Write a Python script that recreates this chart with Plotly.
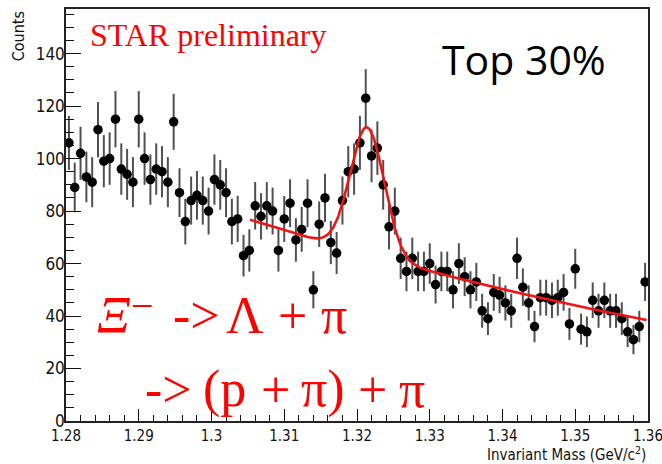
import numpy as np
import plotly.graph_objects as go

# Invariant-mass histogram: 100 bins of 0.0008 GeV/c^2 between 1.28 and 1.36
mass_lo, mass_hi, n_bins = 1.28, 1.36, 100
bin_centers = mass_lo + (np.arange(n_bins) + 0.5) * (mass_hi - mass_lo) / n_bins

counts = [
    106, 89, 102, 93, 91, 111, 99, 100, 115, 96,
    94, 91, 115, 100, 92, 96, 95, 91, 114, 87,
    76, 84, 86, 84, 80, 92, 90, 87, 76, 77,
    63, 65, 82, 78, 82, 80, 65, 77, 83, 69,
    73, 83, 50, 75, 85, 68, 64, 84, 95, 96,
    106, 123, 101, 104, 90, 74, 80, 62, 57, 62,
    57, 57, 60, 52, 57, 57, 50, 60, 55, 50,
    53, 42, 39, 49, 48, 45, 42, 62, 51, 45,
    36, 47, 47, 46, 47, 49, 37, 58, 35, 34,
    46, 42, 46, 42, 42, 39, 34, 31, 36, 53,
]
count_errors = np.sqrt(counts)

x_tick_vals = [1.28, 1.29, 1.30, 1.31, 1.32, 1.33, 1.34, 1.35, 1.36]
x_tick_text = ["1.28", "1.29", "1.3", "1.31", "1.32", "1.33", "1.34", "1.35", "1.36"]
y_tick_vals = [0, 20, 40, 60, 80, 100, 120, 140]

# Fit: Gaussian peak on a quadratic background (expanded about 1.32)
fit_range = (1.3053, 1.3598)
bkg_ref = 1.32
bkg_p0, bkg_p1, bkg_p2 = 64.57, -779.6, 3107.0
gaus_amp, gaus_mean, gaus_sigma = 48.4, 1.3214, 0.00234

fit_x = np.linspace(fit_range[0], fit_range[1], 400)
u = fit_x - bkg_ref
fit_y = (bkg_p0 + bkg_p1 * u + bkg_p2 * u ** 2
         + gaus_amp * np.exp(-0.5 * ((fit_x - gaus_mean) / gaus_sigma) ** 2))

axis_family = "Liberation Sans Narrow, DejaVu Sans Condensed, Arial"
serif = "Liberation Serif, Times New Roman, serif"
red = "#ff0000"

fig = go.Figure()
fig.add_trace(go.Scatter(
    x=bin_centers, y=counts, mode="markers",
    marker=dict(color="black", size=9.5, symbol="circle"),
    error_y=dict(type="data", array=count_errors, visible=True,
                 color="#505050", thickness=2, width=0),
    showlegend=False, hoverinfo="skip",
))
fig.add_trace(go.Scatter(
    x=fit_x, y=fit_y, mode="lines",
    line=dict(color="#f01414", width=2.6),
    showlegend=False, hoverinfo="skip",
))

fig.update_xaxes(
    range=[mass_lo - 1e-7, mass_hi + 1e-7],
    tickmode="array", tickvals=x_tick_vals, ticktext=x_tick_text,
    ticks="inside", ticklen=12, tickwidth=1, tickcolor="#111",
    minor=dict(ticks="inside", ticklen=6, dtick=0.002, tick0=mass_lo, tickcolor="#111"),
    showline=True, linecolor="#222", linewidth=1.5, mirror=True,
    showgrid=False, zeroline=False,
    tickfont=dict(family=axis_family, size=15, color="#111"),
    ticklabeloverflow="allow", automargin=False,
)
fig.update_yaxes(
    range=[0, 157], tickmode="array", tickvals=y_tick_vals,
    ticks="inside", ticklen=15, tickwidth=1, tickcolor="#111",
    minor=dict(ticks="inside", ticklen=8, dtick=5, tick0=0, tickcolor="#111"),
    showline=True, linecolor="#222", linewidth=1.5, mirror=True,
    showgrid=False, zeroline=False,
    tickfont=dict(family=axis_family, size=17, color="#111"),
    ticklabelstandoff=-4, automargin=False,
)


def red_text(text, x, y, size=52, **kw):
    return dict(text=text, xref="paper", yref="paper", x=x, y=y,
                xanchor="left", yanchor="middle", showarrow=False,
                font=dict(family=serif, size=size, color=red), **kw)


annotations = [
    dict(text="Counts", xref="paper", yref="paper", x=-0.082, y=1.0,
         xanchor="center", yanchor="top", textangle=-90, showarrow=False,
         font=dict(family=axis_family, size=16, color="#111")),
    dict(text="Invariant Mass (GeV/c<sup>2</sup>)", xref="paper", yref="paper",
         x=1.0, y=-0.079, xanchor="right", yanchor="middle", showarrow=False,
         font=dict(family=axis_family, size=15, color="#111")),
    dict(text="STAR preliminary", xref="paper", yref="paper",
         x=0.038, y=0.985, xanchor="left", yanchor="top", showarrow=False,
         font=dict(family=serif, size=32, color=red)),
    dict(text="Top 30%", xref="paper", yref="paper",
         x=0.643, y=0.952, xanchor="left", yanchor="top", showarrow=False,
         font=dict(family="Open Sans, Noto Sans, sans-serif", size=41, color="black")),
    # decay chain, first line
    red_text("<i>Ξ</i>", 0.050, 0.257),
    red_text("−", 0.108, 0.281, size=40),
    red_text("->", 0.181, 0.257),
    red_text("Λ", 0.272, 0.257),
    red_text("+", 0.360, 0.257),
    red_text("π", 0.434, 0.257),
    # decay chain, second line
    red_text("->", 0.133, 0.077),
    red_text("(p", 0.232, 0.077),
    red_text("+", 0.331, 0.077),
    red_text("π)", 0.400, 0.077),
    red_text("+", 0.498, 0.077),
    red_text("π", 0.568, 0.077),
]

fig.update_layout(
    width=662, height=464,
    margin=dict(l=66, r=14, t=9, b=43),
    paper_bgcolor="white", plot_bgcolor="white",
    annotations=annotations,
)

fig.write_html("out.html")
